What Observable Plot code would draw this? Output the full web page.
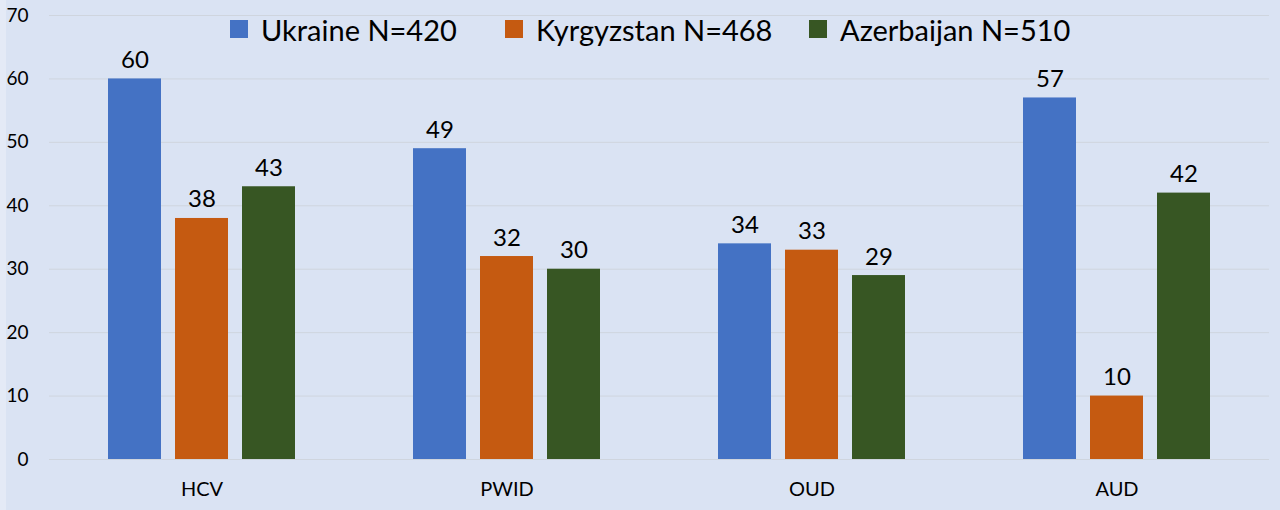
<!DOCTYPE html>
<html><head><meta charset="utf-8">
<script src="https://cdn.jsdelivr.net/npm/d3@7"></script>
<script src="https://cdn.jsdelivr.net/npm/@observablehq/plot@0.6"></script>
<style>
html,body{margin:0;padding:0;background:#dae3f3;width:1280px;height:510px;overflow:hidden;font-family:Lato,"Open Sans",sans-serif}
#wrap{position:relative;width:1280px;height:510px}
#strip{position:absolute;left:0;top:0;width:6px;height:510px;background:#e4eaf6}
#chart{position:absolute;left:0;top:0}
#legend{position:absolute;top:11px;left:0;width:1280px;height:36px;font-size:29px;color:#000}
.item{position:absolute;top:0;height:36px;display:flex;align-items:center;white-space:nowrap}
.sw{width:18px;height:18px;margin-right:13px}
</style></head><body>
<div id="wrap"><div id="strip"></div><div id="chart"></div><div id="legend"></div></div>
<script>
const categories = ["HCV", "PWID", "OUD", "AUD"];
const countries = ["Ukraine", "Kyrgyzstan", "Azerbaijan"];
const sampleSizes = [420, 468, 510];
const ukraine = [60, 49, 34, 57];
const kyrgyzstan = [38, 32, 33, 10];
const azerbaijan = [43, 30, 29, 42];
const yTicks = [0, 10, 20, 30, 40, 50, 60, 70];
const colors = ["#4472c4", "#c55a11", "#375623"];
const legendLeft = [230, 505, 809];

const seriesValues = [ukraine, kyrgyzstan, azerbaijan];
const data = [];
categories.forEach((cat, i) => {
  countries.forEach((c, j) => data.push({cat, country: c, value: seriesValues[j][i]}));
});

const chart = Plot.plot({
  width: 1280,
  height: 510,
  marginTop: 15,
  marginBottom: 51,
  marginLeft: 49,
  marginRight: 11,
  style: {background: "transparent", fontFamily: "Lato, 'Open Sans', sans-serif", color: "#000"},
  fx: {domain: categories, padding: 0, label: null, axis: null},
  x: {domain: countries, paddingInner: 0.21, paddingOuter: 0.855, axis: null},
  y: {domain: [0, 70], label: null, axis: null},
  color: {domain: countries, range: colors},
  marks: [
    Plot.gridY(yTicks, {stroke: "#cfd5de", strokeOpacity: 1}),
    Plot.axisY(yTicks, {tickSize: 0, tickPadding: 21, fontSize: 19, label: null}),
    Plot.axisFx({anchor: "bottom", tickSize: 0, tickPadding: 22, fontSize: 20, label: null}),
    Plot.barY(data, {fx: "cat", x: "country", y: "value", fill: "country"}),
    Plot.text(data, {fx: "cat", x: "country", y: "value", text: d => String(d.value), lineAnchor: "bottom", dy: -11, fontSize: 24, fill: "#000"})
  ]
});
document.getElementById("chart").appendChild(chart);

const legend = document.getElementById("legend");
countries.forEach((c, j) => {
  const it = document.createElement("div");
  it.className = "item";
  it.style.left = legendLeft[j] + "px";
  const sw = document.createElement("div");
  sw.className = "sw";
  sw.style.background = colors[j];
  const t = document.createElement("span");
  t.textContent = `${c} N=${sampleSizes[j]}`;
  it.appendChild(sw); it.appendChild(t);
  legend.appendChild(it);
});
</script>
</body></html>
